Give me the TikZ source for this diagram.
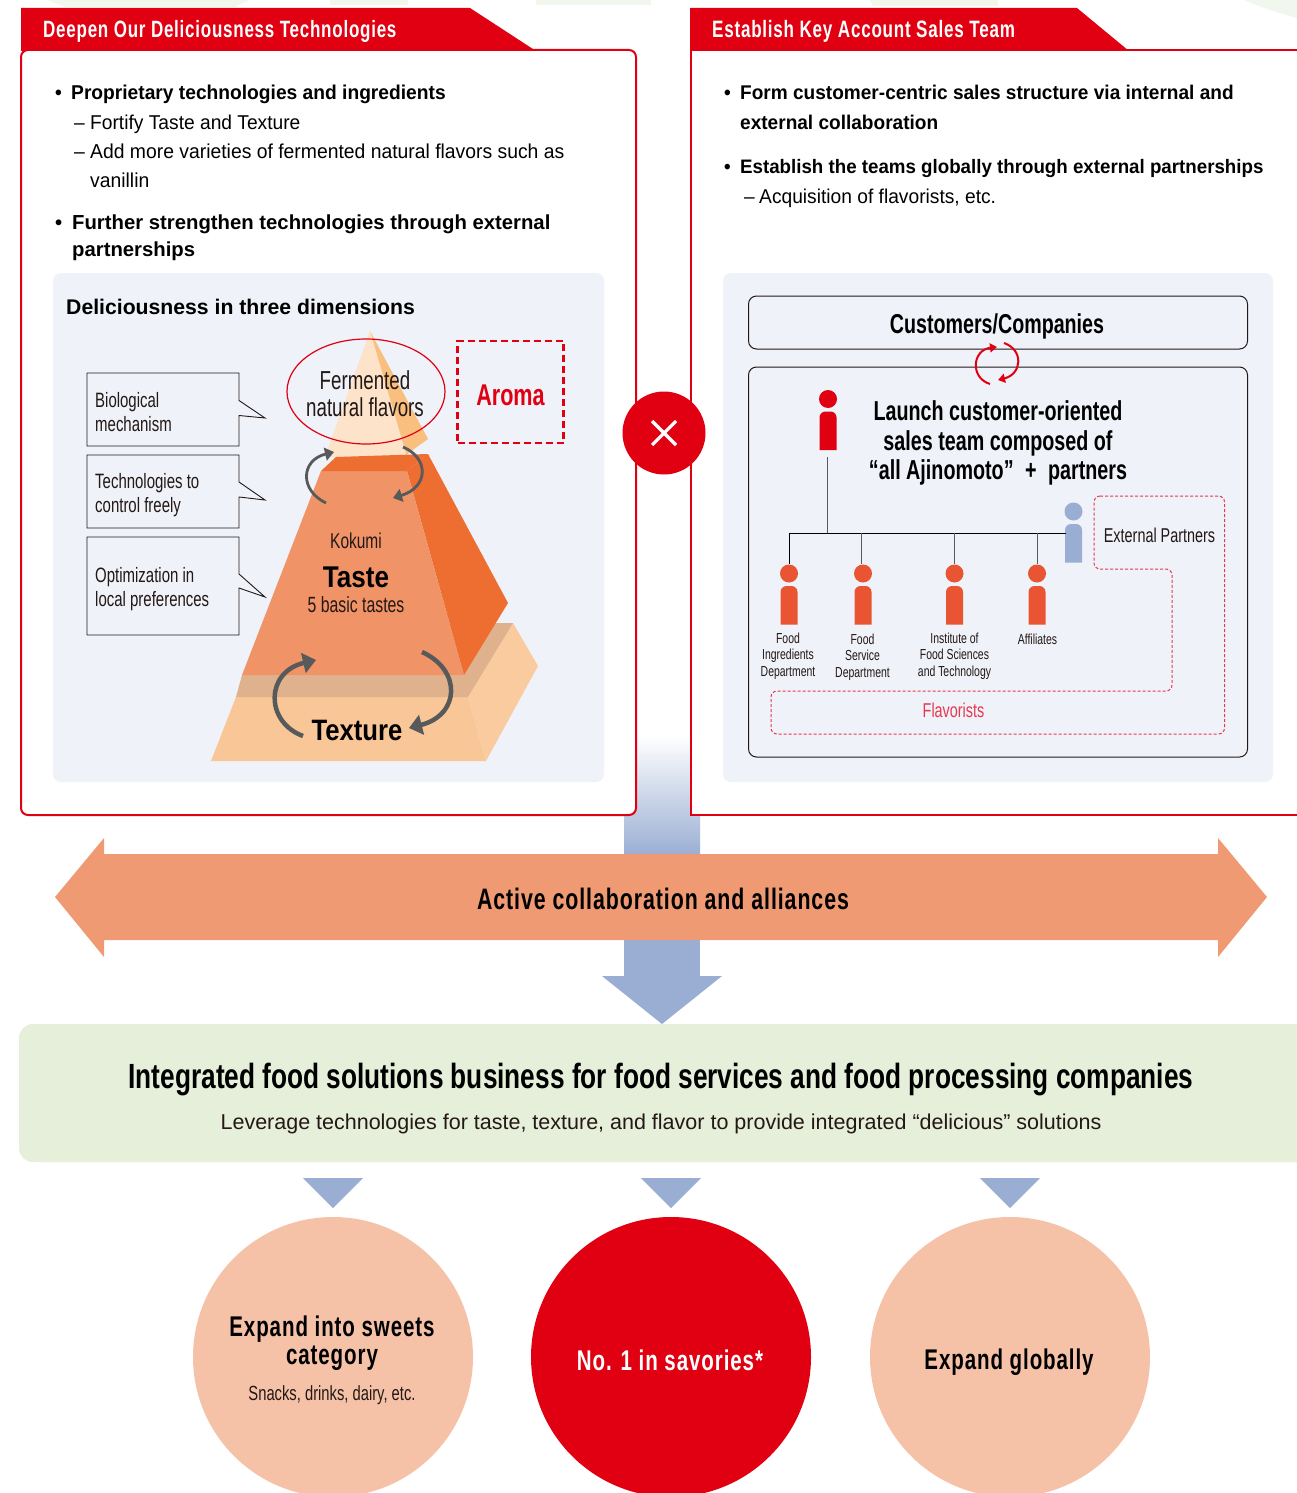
\documentclass[tikz,border=0pt]{standalone}
\usepackage{fontspec}
\usetikzlibrary{arrows.meta,shapes.geometric,calc}
\setmainfont{Liberation Sans}
\newfontfamily\cnd[FakeStretch=0.72]{Liberation Sans}
\newfontfamily\cnds[FakeStretch=0.72,LetterSpace=3.2]{Liberation Sans}
\newfontfamily\cndm[FakeStretch=0.75]{Liberation Sans}
\newfontfamily\cndw[FakeStretch=0.87]{Liberation Sans}
\newfontfamily\semi[FakeStretch=0.96]{Liberation Sans}
\newcommand{\fsz}[2]{\fontsize{#1}{#2}\selectfont}
\definecolor{ajired}{HTML}{E00012}
\definecolor{panelgrey}{HTML}{EFF2F8}
\definecolor{steel}{HTML}{9AAED3}
\definecolor{salmon}{HTML}{F09A73}
\definecolor{paleGreen}{HTML}{E6EFD9}
\definecolor{faintGreen}{HTML}{F1F7EC}
\definecolor{peach}{HTML}{F5C2A8}
\definecolor{coneFront}{HTML}{FDE3C9}
\definecolor{coneSide}{HTML}{F9BF7F}
\definecolor{tasteFront}{HTML}{F09468}
\definecolor{tasteDark}{HTML}{EE6D30}
\definecolor{texFront}{HTML}{F9C797}
\definecolor{texTop}{HTML}{DFB28D}
\definecolor{arrowGrey}{HTML}{58595B}
\definecolor{deptOrange}{HTML}{E95532}
\definecolor{inkDark}{HTML}{231815}
\definecolor{pinkDash}{HTML}{E8384F}
\newcommand{\person}[5]{% name, x, head y, colour, body half width
  \node[circle,fill=#4,minimum size=18pt,inner sep=0pt] (#1) at (#2,#3) {};
  \fill[#4] ($(#2,#3)+(-#5,51)$) [rounded corners=6pt] -- ($(#2,#3)+(-#5,12.5)$) -- ($(#2,#3)+(#5,12.5)$) [sharp corners] -- ($(#2,#3)+(#5,51)$) -- cycle;
}
\newcommand{\bul}[1]{\makebox[#1pt][l]{•}}
\newcommand{\dsh}[1]{\makebox[#1pt][l]{–}}
\tikzset{
  bodytext/.style={anchor=base west,inner sep=0pt,text=black},
  boldbody/.style={bodytext,font=\semi\bfseries\fsz{20}{27},align=left},
  subbody/.style={bodytext,font=\semi\fsz{20}{29}\color{inkDark},align=left},
  callout/.style={draw=inkDark,line width=0.9pt,fill=panelgrey},
  calltext/.style={anchor=west,inner sep=0pt,align=left,text=inkDark,font=\cnd\fsz{20.8}{24}},
  deptlabel/.style={anchor=north,inner sep=0pt,align=center,text=inkDark,font=\cnd\fsz{14.5}{16.2}},
  framebox/.style={draw=inkDark,line width=1pt,rounded corners=8pt,fill=panelgrey},
  orgline/.style={draw=black,line width=1pt},
  greyline/.style={draw=arrowGrey,line width=1pt},
  turnG/.style={draw=arrowGrey,line width=4.5pt,-{Triangle[length=13pt,width=20pt]}},
  turnGs/.style={draw=arrowGrey,line width=2.8pt,-{Triangle[length=9pt,width=13pt]}},
  turnR/.style={draw=ajired,line width=2pt,-{Triangle[length=7pt,width=9pt]}},
  pinkpath/.style={draw=pinkDash,line width=1pt,dash pattern=on 3pt off 2pt,rounded corners=6pt},
  bigcirc/.style={circle,minimum size=280pt,inner sep=0pt,align=center},
  downtri/.style={fill=steel},
  labelc/.style={inner sep=0pt,align=center},
}
\begin{document}
\begin{tikzpicture}[x=1pt,y=-1pt]
\useasboundingbox (0,0) rectangle (1297,1493);
\clip (0,0) rectangle (1297,1493);
\fill[white] (0,0) rectangle (1297,1493);
% faint background
\fill[faintGreen] (48,0) -- (250,0) -- (235,7) -- (65,7) -- cycle;
\fill[faintGreen] (330,0) rectangle (408,5);
\fill[faintGreen] (536,0) rectangle (651,5);
\fill[faintGreen] (870,0) -- (998,0) -- (998,6) -- (873,6) -- cycle;
\fill[faintGreen] (1244,0) -- (1297,0) -- (1297,18) .. controls (1275,12) and (1258,6) .. cycle;
% central descending arrow
\shade[top color=white,bottom color=steel] (624,735) rectangle (700,856);
\fill[steel] (624,855) rectangle (700,976);
\fill[steel] (602,976) -- (722,976) -- (662,1024) -- cycle;
% left panel
\draw[ajired,line width=2pt,fill=white,rounded corners=7pt] (21,50) -- (636,50) -- (636,815) -- (21,815) -- cycle;
\fill[ajired] (21,8) -- (470,8) -- (536,51) -- (21,51) -- cycle;
\node[anchor=base west,inner sep=0pt,text=white,font=\cnds\bfseries\fsz{23.6}{24}] (headL) at (43,38) {Deepen Our Deliciousness Technologies};
% right panel
\fill[white] (691,50) rectangle (1297,815);
\draw[ajired,line width=2pt] (1297,50) -- (691,50) -- (691,815) -- (1297,815);
\fill[ajired] (690,8) -- (1077,8) -- (1129,51) -- (690,51) -- cycle;
\node[anchor=base west,inner sep=0pt,text=white,font=\cnds\bfseries\fsz{23.7}{24}] (headR) at (712,38) {Establish Key Account Sales Team};
% left text
\node[boldbody] (bl1) at (55,100) {\bul{16}Proprietary technologies and ingredients};
\node[subbody] (sl1) at (74,129) {\dsh{16}Fortify Taste and Texture};
\node[subbody,font=\semi\fsz{20.15}{29}\color{inkDark}] (sl2) at (74,187) {\dsh{16}Add more varieties of fermented natural flavors such as\\\hspace{16pt}vanillin};
\node[boldbody,font=\bfseries\fsz{20.3}{27}] (bl2) at (55,256) {\bul{17}Further strengthen technologies through external\\\hspace{17pt}partnerships};
% right text
\node[boldbody,font=\semi\bfseries\fsz{19.85}{30}] (br1) at (724,130) {\bul{16}Form customer-centric sales structure via internal and\\\hspace{16pt}external collaboration};
\node[boldbody,font=\semi\bfseries\fsz{19.5}{27}] (br2) at (724,173) {\bul{16}Establish the teams globally through external partnerships};
\node[subbody] (sr1) at (744,203) {\dsh{15}Acquisition of flavorists, etc.};
% inner panels
\fill[panelgrey,rounded corners=8pt] (53,273) rectangle (604,782);
\fill[panelgrey,rounded corners=8pt] (723,273) rectangle (1273,782);
\node[anchor=base west,inner sep=0pt,font=\fsz{21.2}{24}\bfseries] (dim) at (66,314) {Deliciousness in three dimensions};
% pyramid
\fill[texFront] (236,697) -- (468,697) -- (486,761) -- (211,761) -- cycle;
\fill[texFront!92!white] (468,697) -- (513,623) -- (538,666) -- (486,761) -- cycle;
\fill[texTop] (236,697) -- (242,675) -- (300,623) -- (513,623) -- (468,697) -- cycle;
\fill[tasteDark] (407,471) -- (428,454) -- (508,603) -- (464,675) -- cycle;
\fill[tasteFront] (321,471) -- (407,471) -- (464,675) -- (242,675) -- cycle;
\fill[coneSide] (370,331) -- (428,439) -- (403,457) -- cycle;
\fill[coneFront] (370,331) -- (407,457) -- (325,457) -- cycle;
\fill[tasteDark] (321,471) -- (336,457) -- (428,454) -- (407,471) -- cycle;
% grey cycle arrows
\draw[turnG] (303,736) .. controls (265,722) and (265,672) .. (316,660);
\draw[turnG] (422,652) .. controls (462,670) and (460,715) .. (409,728);
\draw[turnGs] (326,503) .. controls (299,490) and (301,460) .. (334,452);
\draw[turnGs] (403,447) .. controls (429,458) and (429,487) .. (393,498);
% pyramid text
\node[ellipse,draw=ajired,line width=1.2pt,minimum width=158pt,minimum height=105pt,inner sep=0pt] (flav) at (366,391.5) {};
\node[labelc,text=inkDark,font=\cnd\fsz{26}{27}] (flavT) at (365,394) {Fermented\\natural flavors};
\node[draw=ajired,line width=2.5pt,dash pattern=on 7pt off 4pt,minimum width=106pt,minimum height=102pt,inner sep=0pt] (aroma) at (510.5,392) {};
\node[labelc,text=ajired,font=\cnd\bfseries\fsz{30}{30}] (aromaT) at (510.5,395) {Aroma};
\node[labelc,text=inkDark,font=\cnd\fsz{21.5}{22}] (kok) at (356,541) {Kokumi};
\node[labelc,font=\cndw\bfseries\fsz{30}{32}] (taste) at (356,577) {Taste};
\node[labelc,text=inkDark,font=\cnd\fsz{22}{24}] (basic) at (356,605) {5 basic tastes};
\node[labelc,font=\cndw\bfseries\fsz{29.5}{32}] (tex) at (357,730.5) {Texture};
% callouts
\draw[callout] (87,373) -- (239,373) -- (239,400.5) -- (265,418) -- (239,415.5) -- (239,446) -- (87,446) -- cycle;
\draw[callout] (87,455) -- (239,455) -- (239,482) -- (265,500) -- (239,497) -- (239,528) -- (87,528) -- cycle;
\draw[callout] (87,537) -- (239,537) -- (239,574) -- (265,597) -- (239,588) -- (239,635) -- (87,635) -- cycle;
\node[calltext] (c1) at (95,412) {Biological\\mechanism};
\node[calltext] (c2) at (95,495) {Technologies to\\control freely};
\node[calltext] (c3) at (95,589) {Optimization in\\local preferences};
% cross circle
\node[circle,fill=ajired,minimum size=83pt,inner sep=0pt] (cross) at (664,433) {};
\draw[white,line width=3.2pt] ($(cross)+(-12,-12)$) -- ($(cross)+(12,12)$);
\draw[white,line width=3.2pt] ($(cross)+(-12,12)$) -- ($(cross)+(12,-12)$);
% right diagram
\node[framebox,minimum width=499pt,minimum height=53pt,inner sep=0pt] (cust) at (998,322.5) {};
\node[labelc,font=\cnd\bfseries\fsz{27.3}{28}] (custT) at (997,326) {Customers/Companies};
\draw[framebox,fill=panelgrey] (748.5,367) rectangle (1247.5,757);
\draw[turnR] (990,384) .. controls (970,378) and (972,350) .. (997,347);
\draw[turnR] (1004,343) .. controls (1024,350) and (1022,374) .. (998,380);
\node[labelc,font=\cnd\bfseries\fsz{27.4}{29.5}] (launch) at (998,443) {Launch customer-oriented\\sales team composed of\\“all Ajinomoto”\hspace{6pt} + \hspace{6pt}partners};
\person{lead}{828}{399}{ajired}{8.5}
\person{d1}{789}{573.5}{deptOrange}{8.5}
\person{d2}{863}{573.5}{deptOrange}{8.5}
\person{d3}{954.5}{573.5}{deptOrange}{8.5}
\person{d4}{1037}{573.5}{deptOrange}{8.5}
\person{ext}{1073.5}{511.5}{steel}{8.5}
\coordinate (leadTop) at (827.5,457);
\coordinate (busL) at (827.5,533);
\coordinate (bus1) at (789,533);
\coordinate (bus2) at (861.5,533);
\coordinate (bus3) at (954.5,533);
\coordinate (bus4) at (1037,533);
\coordinate (bus5) at (1066,533);
\draw[greyline] (leadTop) -- (busL);
\draw[orgline] (bus1) -- (bus5);
\draw[orgline] (bus1) -- (d1.north);
\draw[greyline] (bus2) -- (bus2 |- d2.north);
\draw[greyline] (bus3) -- (d3.north);
\draw[greyline] (bus4) -- (d4.north);
\node[deptlabel] (l1) at (788,633) {Food\\Ingredients\\Department};
\node[deptlabel] (l2) at (862.5,634) {Food\\Service\\Department};
\node[deptlabel] (l3) at (954.5,633) {Institute of\\Food Sciences\\and Technology};
\node[deptlabel] (l4) at (1037.5,634) {Affiliates};
\draw[pinkpath] (1094,496) -- (1224.5,496) -- (1224.5,734) -- (771,734) -- (771,691) -- (1172,691) -- (1172,569) -- (1094,569) -- cycle;
\node[labelc,text=inkDark,font=\cnd\fsz{20}{22}] (extT) at (1159.5,535) {External Partners};
\node[labelc,text=pinkDash,font=\cnd\fsz{20}{22}] (flT) at (953.5,710) {Flavorists};
% collaboration arrow
\fill[salmon] (55,897) -- (104,838) -- (104,854) -- (1218,854) -- (1218,838) -- (1267,897) -- (1218,957) -- (1218,940) -- (104,940) -- (104,957) -- cycle;
\node[labelc,font=\cnds\bfseries\fsz{29.6}{30}] (collab) at (663,899) {Active collaboration and alliances};
% green band
\fill[paleGreen,rounded corners=14pt] (19,1024) rectangle (1330,1162);
\node[labelc,font=\cndm\bfseries\fsz{35}{38}] (integ) at (661,1079.5) {Integrated food solutions business for food services and food processing companies};
\node[labelc,text=inkDark,font=\fsz{21.5}{24}] (lev) at (661,1124) {Leverage technologies for taste, texture, and flavor to provide integrated “delicious” solutions};
% triangles
\fill[downtri] (303,1178) -- (363,1178) -- (333,1208) -- cycle;
\fill[downtri] (641,1178) -- (701,1178) -- (671,1208) -- cycle;
\fill[downtri] (980,1178) -- (1040,1178) -- (1010,1208) -- cycle;
% circles
\node[bigcirc,fill=peach] (c-a) at (333,1357) {};
\node[bigcirc,fill=ajired] (c-b) at (671,1357) {};
\node[bigcirc,fill=peach] (c-c) at (1010,1357) {};
\node[labelc,font=\cnds\bfseries\fsz{28.5}{28}] (ta) at (332,1343.5) {Expand into sweets\\category};
\node[labelc,text=inkDark,font=\cnd\fsz{20.5}{22}] (tb) at (332,1395) {Snacks, drinks, dairy, etc.};
\node[labelc,text=white,font=\cnds\bfseries\fsz{28.5}{31}] (tc) at (670,1360) {No. 1 in savories*};
\node[labelc,font=\cnds\bfseries\fsz{28.5}{31}] (td) at (1009,1362) {Expand globally};
\end{tikzpicture}
\end{document}
